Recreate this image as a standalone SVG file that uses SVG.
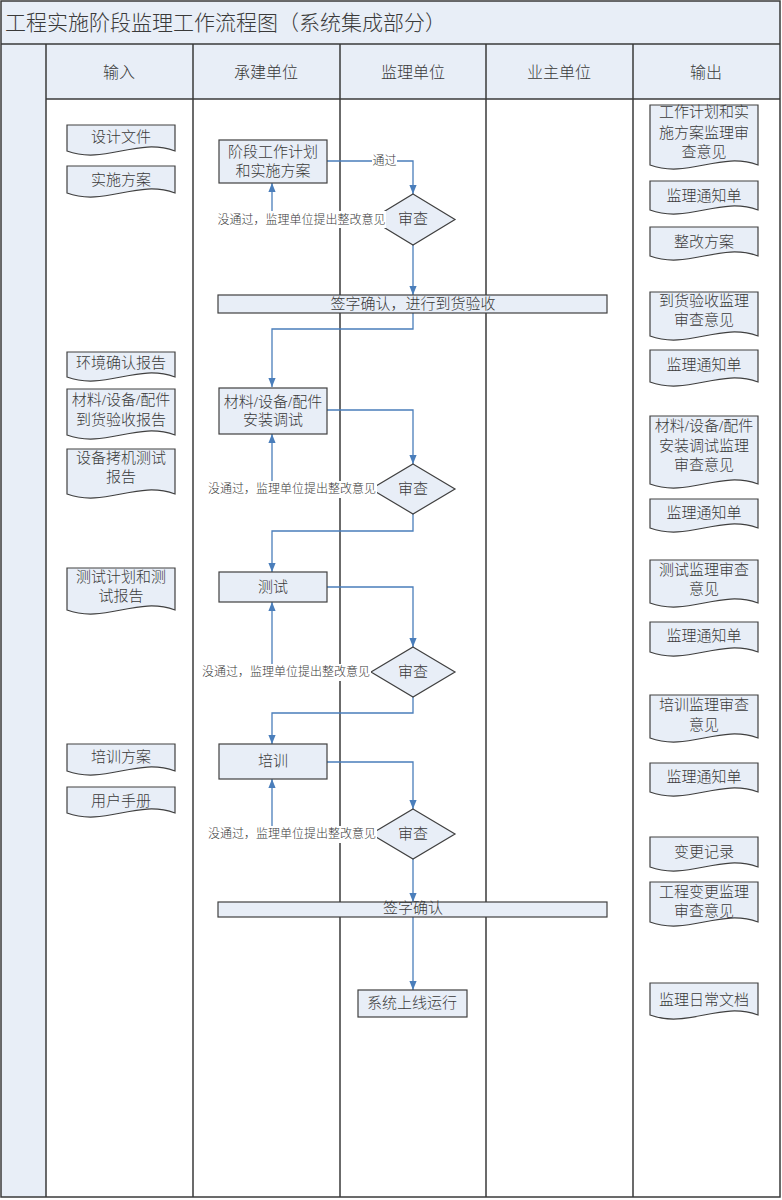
<svg xmlns="http://www.w3.org/2000/svg" width="782" height="1200" viewBox="0 0 782 1200">
<style>
.t{font-family:"Liberation Serif","Noto Sans CJK SC",serif;fill:#3a3a3a;text-anchor:middle;dominant-baseline:central;font-weight:300}
.n{font-size:15px}
.h{font-size:16px}
.l{font-size:12px}
.band{fill:#e8eef7;stroke:none}
.grid{stroke:#3a3a3a;stroke-width:1.5;fill:none}
.shape{fill:#e8eef7;stroke:#404040;stroke-width:1.2}
.conn{fill:none;stroke:#4a7ebb;stroke-width:1.3}
.lbg{fill:#fff}
</style>
<defs>
<marker id="arr" viewBox="0 0 10 10" refX="10" refY="5" markerWidth="9" markerHeight="9" markerUnits="userSpaceOnUse" orient="auto">
<path d="M0,1 L10,5 L0,9 z" fill="#4a7ebb"/>
</marker>
</defs>
<rect x="0" y="0" width="782" height="1200" fill="#fff"/>
<g id="frame">
<rect class="band" x="1" y="1" width="779" height="43"/>
<rect class="band" x="1" y="44" width="45" height="1153"/>
<rect class="band" x="46" y="44" width="734" height="55"/>
<rect class="grid" x="1" y="1" width="779" height="1196"/>
<line class="grid" x1="1" y1="44" x2="780" y2="44"/>
<line class="grid" x1="46" y1="99" x2="780" y2="99"/>
<line class="grid" x1="46" y1="44" x2="46" y2="1197"/>
<line class="grid" x1="193" y1="44" x2="193" y2="1197"/>
<line class="grid" x1="340" y1="44" x2="340" y2="1197"/>
<line class="grid" x1="486" y1="44" x2="486" y2="1197"/>
<line class="grid" x1="633" y1="44" x2="633" y2="1197"/>
<text class="t" x="5" y="23" style="font-size:21px;text-anchor:start">工程实施阶段监理工作流程图（系统集成部分）</text>
<text class="t h" x="119" y="72">输入</text>
<text class="t h" x="266" y="72">承建单位</text>
<text class="t h" x="413" y="72">监理单位</text>
<text class="t h" x="559" y="72">业主单位</text>
<text class="t h" x="706" y="72">输出</text>
</g>

<g id="inputs">
<g id="in1"><path class="shape" d="M67,125 H175 V151 C137.2,137 104.8,165 67,151 Z"/><text class="t n" x="121" y="137">设计文件</text></g>
<g id="in2"><path class="shape" d="M67,166 H175 V193 C137.2,179 104.8,207 67,193 Z"/><text class="t n" x="121" y="180">实施方案</text></g>
<g id="in3"><path class="shape" d="M67,352 H175 V377 C137.2,363 104.8,391 67,377 Z"/><text class="t n" x="121" y="363">环境确认报告</text></g>
<g id="in4"><path class="shape" d="M67,389 H175 V435 C137.2,421 104.8,449 67,435 Z"/><text class="t n" x="121" y="400">材料/设备/配件</text><text class="t n" x="121" y="420">到货验收报告</text></g>
<g id="in5"><path class="shape" d="M67,449 H175 V494 C137.2,480 104.8,508 67,494 Z"/><text class="t n" x="121" y="458">设备拷机测试</text><text class="t n" x="121" y="477">报告</text></g>
<g id="in6"><path class="shape" d="M67,568 H175 V610 C137.2,596 104.8,624 67,610 Z"/><text class="t n" x="121" y="577">测试计划和测</text><text class="t n" x="121" y="596">试报告</text></g>
<g id="in7"><path class="shape" d="M67,744 H175 V771 C137.2,757 104.8,785 67,771 Z"/><text class="t n" x="121" y="757">培训方案</text></g>
<g id="in8"><path class="shape" d="M67,787 H175 V813 C137.2,799 104.8,827 67,813 Z"/><text class="t n" x="121" y="801">用户手册</text></g>
</g>

<g id="outputs">
<g id="out1"><path class="shape" d="M650,105 H758 V165 C720.2,151 687.8,179 650,165 Z"/><text class="t n" x="704" y="112">工作计划和实</text><text class="t n" x="704" y="133">施方案监理审</text><text class="t n" x="704" y="152">查意见</text></g>
<g id="out2"><path class="shape" d="M650,181 H758 V210 C720.2,196 687.8,224 650,210 Z"/><text class="t n" x="704" y="196">监理通知单</text></g>
<g id="out3"><path class="shape" d="M650,227 H758 V256 C720.2,242 687.8,270 650,256 Z"/><text class="t n" x="704" y="242">整改方案</text></g>
<g id="out4"><path class="shape" d="M650,292 H758 V336 C720.2,322 687.8,350 650,336 Z"/><text class="t n" x="704" y="301">到货验收监理</text><text class="t n" x="704" y="320">审查意见</text></g>
<g id="out5"><path class="shape" d="M650,350 H758 V382 C720.2,368 687.8,396 650,382 Z"/><text class="t n" x="704" y="365">监理通知单</text></g>
<g id="out6"><path class="shape" d="M650,416 H758 V484 C720.2,470 687.8,498 650,484 Z"/><text class="t n" x="704" y="426">材料/设备/配件</text><text class="t n" x="704" y="446">安装调试监理</text><text class="t n" x="704" y="465">审查意见</text></g>
<g id="out7"><path class="shape" d="M650,499 H758 V528 C720.2,514 687.8,542 650,528 Z"/><text class="t n" x="704" y="513">监理通知单</text></g>
<g id="out8"><path class="shape" d="M650,560 H758 V603 C720.2,589 687.8,617 650,603 Z"/><text class="t n" x="704" y="570">测试监理审查</text><text class="t n" x="704" y="589">意见</text></g>
<g id="out9"><path class="shape" d="M650,622 H758 V652 C720.2,638 687.8,666 650,652 Z"/><text class="t n" x="704" y="636">监理通知单</text></g>
<g id="out10"><path class="shape" d="M650,695 H758 V738 C720.2,724 687.8,752 650,738 Z"/><text class="t n" x="704" y="705">培训监理审查</text><text class="t n" x="704" y="725">意见</text></g>
<g id="out11"><path class="shape" d="M650,763 H758 V792 C720.2,778 687.8,806 650,792 Z"/><text class="t n" x="704" y="777">监理通知单</text></g>
<g id="out12"><path class="shape" d="M650,837 H758 V867 C720.2,853 687.8,881 650,867 Z"/><text class="t n" x="704" y="852">变更记录</text></g>
<g id="out13"><path class="shape" d="M650,882 H758 V922 C720.2,908 687.8,936 650,922 Z"/><text class="t n" x="704" y="892">工程变更监理</text><text class="t n" x="704" y="911">审查意见</text></g>
<g id="out14"><path class="shape" d="M650,983 H758 V1015 C720.2,1001 687.8,1029 650,1015 Z"/><text class="t n" x="704" y="1000">监理日常文档</text></g>
</g>

<g id="connectors">
<path class="conn" d="M327,161 H413 V194" marker-end="url(#arr)"/>
<path class="conn" d="M371,219.5 H272 V183" marker-end="url(#arr)"/>
<path class="conn" d="M413,245 V295" marker-end="url(#arr)"/>
<path class="conn" d="M413,313 V329 H272 V387" marker-end="url(#arr)"/>
<path class="conn" d="M327,410 H413 V464" marker-end="url(#arr)"/>
<path class="conn" d="M371,489 H272 V434" marker-end="url(#arr)"/>
<path class="conn" d="M413,514 V531 H272 V572" marker-end="url(#arr)"/>
<path class="conn" d="M327,587 H413 V647" marker-end="url(#arr)"/>
<path class="conn" d="M371,672 H272 V602" marker-end="url(#arr)"/>
<path class="conn" d="M413,697 V713 H272 V744" marker-end="url(#arr)"/>
<path class="conn" d="M327,762 H413 V809" marker-end="url(#arr)"/>
<path class="conn" d="M371,834 H272 V779" marker-end="url(#arr)"/>
<path class="conn" d="M413,859 V902" marker-end="url(#arr)"/>
<path class="conn" d="M413,917 V990" marker-end="url(#arr)"/>
</g>

<g id="p1"><rect class="shape" x="219" y="140" width="108" height="43"/><text class="t n" x="273" y="152">阶段工作计划</text><text class="t n" x="273" y="171">和实施方案</text></g>
<g id="d1"><path class="shape" d="M413,194 L455,219.5 L413,245 L371,219.5 Z"/><text class="t n" x="413" y="219">审查</text></g>
<g id="bar1"><rect class="shape" x="218" y="295" width="389" height="18"/><text class="t n" x="413" y="304">签字确认，进行到货验收</text></g>
<g id="p2"><rect class="shape" x="219" y="388" width="108" height="46"/><text class="t n" x="273" y="402">材料/设备/配件</text><text class="t n" x="273" y="420">安装调试</text></g>
<g id="d2"><path class="shape" d="M413,464 L455,489 L413,514 L371,489 Z"/><text class="t n" x="413" y="489">审查</text></g>
<g id="p3"><rect class="shape" x="219" y="572" width="108" height="30"/><text class="t n" x="273" y="587">测试</text></g>
<g id="d3"><path class="shape" d="M413,647 L455,672 L413,697 L371,672 Z"/><text class="t n" x="413" y="672">审查</text></g>
<g id="p4"><rect class="shape" x="219" y="744" width="108" height="35"/><text class="t n" x="273" y="761">培训</text></g>
<g id="d4"><path class="shape" d="M413,809 L455,834 L413,859 L371,834 Z"/><text class="t n" x="413" y="834">审查</text></g>
<g id="bar2"><rect class="shape" x="218" y="902" width="389" height="15"/><text class="t n" x="413" y="908">签字确认</text></g>
<g id="p5"><rect class="shape" x="358" y="990" width="109" height="27"/><text class="t n" x="412" y="1003">系统上线运行</text></g>

<g id="labels">
<rect class="lbg" x="372" y="153" width="25" height="16"/><text class="t l" x="384.5" y="161">通过</text>
<rect class="lbg" x="217" y="211" width="169" height="17"/><text class="t l" x="301.5" y="219.5">没通过，监理单位提出整改意见</text>
<rect class="lbg" x="207" y="481" width="170" height="17"/><text class="t l" x="292" y="489">没通过，监理单位提出整改意见</text>
<rect class="lbg" x="201" y="664" width="170" height="17"/><text class="t l" x="286" y="672">没通过，监理单位提出整改意见</text>
<rect class="lbg" x="207" y="826" width="170" height="17"/><text class="t l" x="292" y="834">没通过，监理单位提出整改意见</text>
</g>
</svg>
